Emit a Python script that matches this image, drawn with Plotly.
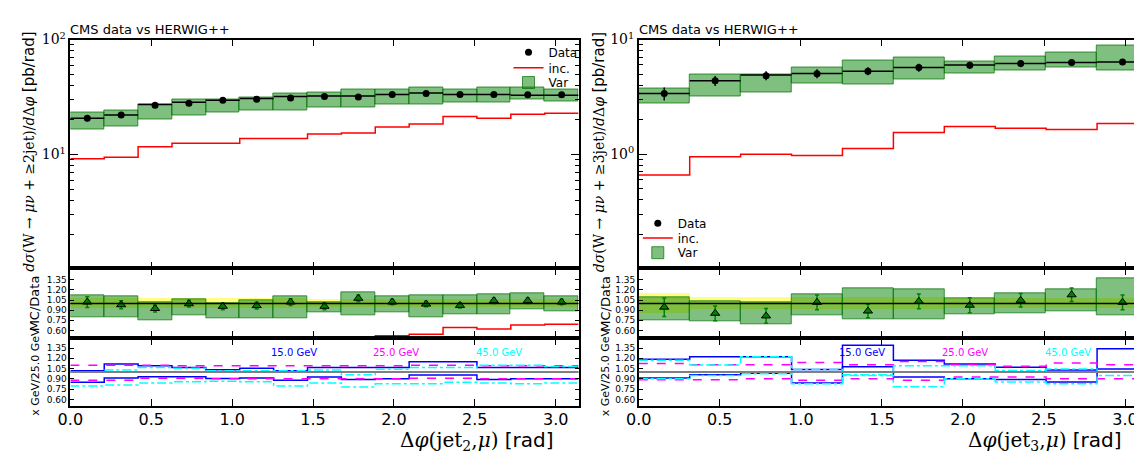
import numpy as np
import plotly.graph_objects as go

W, H = 1142, 452
PI = np.pi

# ---- left: W + >=2 jets, dphi(jet2, mu), 15 bins ----
L_data = [20.7, 22.1, 26.8, 27.9, 29.6, 30.2, 31.0, 32.0, 31.6, 33.3, 34.0, 33.3, 33.3, 33.0, 33.0]
L_data_rel = [0.06, 0.06, 0.05, 0.06, 0.05, 0.05, 0.05, 0.04, 0.05, 0.04, 0.04, 0.04, 0.04, 0.04, 0.04]
L_mc = [20.7, 22.1, 27.2, 28.4, 29.6, 30.7, 32.0, 32.3, 32.3, 33.3, 34.3, 33.3, 33.3, 32.7, 32.7]
L_var_hi = [23.3, 24.3, 27.4, 30.2, 30.2, 31.6, 34.2, 34.4, 36.6, 36.6, 38.6, 36.6, 37.9, 37.9, 36.6]
L_var_lo = [16.5, 17.5, 20.3, 21.8, 23.4, 24.0, 24.3, 25.6, 25.6, 27.4, 27.4, 28.3, 28.3, 30.2, 29.0]
L_inc = [9.18, 9.48, 11.7, 12.5, 12.5, 13.8, 13.8, 15.1, 15.4, 17.3, 18.4, 21.4, 20.7, 22.4, 22.8]
L_ratio = [1.02, 0.98, 0.924, 0.995, 0.957, 0.967, 1.02, 0.957, 1.076, 1.02, 0.99, 0.97, 1.04, 1.04, 1.02]
L_ratio_err = [0.08, 0.06, 0.05, 0.05, 0.05, 0.05, 0.05, 0.05, 0.05, 0.04, 0.04, 0.04, 0.04, 0.04, 0.04]
L_vr_hi = [1.114, 1.10, 1.014, 1.067, 1.005, 1.043, 1.10, 1.014, 1.16, 1.10, 1.124, 1.114, 1.138, 1.148, 1.10]
L_vr_lo = [0.80, 0.80, 0.752, 0.82, 0.776, 0.78, 0.78, 0.86, 0.824, 0.862, 0.80, 0.838, 0.838, 0.91, 0.876]
L_band = [0.08, 0.07, 0.075, 0.07, 0.07, 0.07, 0.07, 0.06, 0.06, 0.06, 0.06, 0.06, 0.06, 0.06, 0.06]
L_15_hi = [1.018, 1.118, 1.09, 1.066, 1.033, 1.056, 1.018, 1.066, 1.066, 1.066, 1.151, 1.151, 1.066, 1.066, 1.066]
L_15_lo = [0.851, 0.913, 0.932, 0.932, 0.904, 0.913, 0.88, 0.927, 0.89, 0.90, 0.956, 0.956, 0.89, 0.90, 0.90]
L_25_hi = [1.10, 1.10, 1.10, 1.09, 1.09, 1.09, 1.09, 1.09, 1.09, 1.09, 1.10, 1.10, 1.09, 1.09, 1.09]
L_25_lo = [0.88, 0.88, 0.91, 0.91, 0.90, 0.90, 0.90, 0.90, 0.90, 0.90, 0.91, 0.91, 0.90, 0.90, 0.90]
L_45_hi = [1.00, 1.03, 1.066, 1.056, 1.02, 1.02, 1.02, 1.03, 0.96, 1.04, 1.066, 1.066, 1.10, 1.10, 1.08]
L_45_lo = [0.794, 0.81, 0.84, 0.857, 0.866, 0.857, 0.794, 0.84, 0.78, 0.83, 0.83, 0.85, 0.84, 0.83, 0.84]

# ---- right: W + >=3 jets, dphi(jet3, mu), 10 bins ----
R_data = [3.38, 4.36, 4.84, 5.04, 5.30, 5.70, 5.97, 6.17, 6.29, 6.37]
R_data_rel = [0.13, 0.10, 0.09, 0.09, 0.08, 0.08, 0.07, 0.07, 0.05, 0.05]
R_mc = [3.38, 4.36, 4.90, 5.06, 5.30, 5.70, 6.00, 6.17, 6.29, 6.37]
R_var_hi = [3.73, 5.0, 5.0, 5.66, 6.58, 6.98, 6.46, 7.13, 7.71, 8.84]
R_var_lo = [2.74, 3.21, 3.47, 4.17, 4.03, 4.45, 5.03, 5.33, 5.66, 5.33]
R_inc = [0.658, 0.948, 1.0, 0.975, 1.12, 1.55, 1.74, 1.68, 1.64, 1.85]
R_ratio = [0.944, 0.853, 0.814, 1.016, 0.887, 1.03, 0.973, 1.045, 1.127, 1.016]
R_ratio_err = [0.137, 0.11, 0.11, 0.11, 0.10, 0.11, 0.11, 0.10, 0.10, 0.11]
R_vr_hi = [1.093, 1.03, 1.02, 1.127, 1.223, 1.213, 1.079, 1.151, 1.213, 1.367]
R_vr_lo = [0.742, 0.728, 0.694, 0.83, 0.757, 0.757, 0.838, 0.853, 0.887, 0.829]
R_band = [0.15, 0.094, 0.094, 0.09, 0.09, 0.09, 0.08, 0.08, 0.08, 0.08]
R_15_hi = [1.188, 1.221, 1.221, 1.035, 1.392, 1.173, 1.116, 1.069, 1.03, 1.34]
R_15_lo = [0.911, 0.959, 0.983, 0.84, 1.078, 0.926, 0.902, 0.892, 0.854, 1.045]
R_25_hi = [1.125, 1.107, 1.107, 1.14, 1.107, 1.154, 1.107, 1.083, 1.13, 1.107]
R_25_lo = [0.888, 0.888, 0.902, 0.878, 0.902, 0.878, 0.926, 0.926, 0.902, 0.902]
R_45_hi = [1.17, 1.102, 1.221, 1.035, 0.959, 1.093, 1.093, 1.021, 1.045, 0.997]
R_45_lo = [0.90, 0.95, 0.973, 0.83, 0.95, 0.783, 0.902, 0.854, 0.83, 0.95]

GEV_LABELS = ["15.0 GeV", "25.0 GeV", "45.0 GeV"]
GEV_COLORS = ["blue", "magenta", "cyan"]
GEV_DASH = ["solid", "dash", "dashdot"]
GEV_LABEL_X = [1.38, 2.01, 2.65]
RATIO_TICKS = [0.60, 0.75, 0.90, 1.05, 1.20, 1.35]

FONT = "DejaVu Sans"
SERIF = "DejaVu Serif"
GREEN = "rgba(0,128,0,0.5)"
YELLOW = "rgba(255,255,0,0.5)"

# the page body adds an 8px margin, so place things relative to that
OFF = 8


def px_x(x):
    return (x - OFF) / W


def px_y(y):
    return 1 - (y - OFF) / H


fig = go.Figure()


def sfx(i):
    return "" if i == 1 else str(i)


def steps(edges, vals):
    return list(edges), list(vals) + [vals[-1]]


def segments(edges, vals):
    xs, ys = [], []
    for i, v in enumerate(vals):
        xs += [edges[i], edges[i + 1], None]
        ys += [v, v, None]
    return xs, ys


def add_panel(k, nbins, d, legends):
    # legends: one single-entry legend each for Data, inc., Var (lets us space them tightly)
    edges = np.linspace(0, PI, nbins + 1)
    centers = (edges[:-1] + edges[1:]) / 2
    bw = edges[1] - edges[0]
    m = dict(xaxis="x" + sfx(k), yaxis="y" + sfx(k))
    r1 = dict(xaxis="x" + sfx(k + 1), yaxis="y" + sfx(k + 1))
    r2 = dict(xaxis="x" + sfx(k + 2), yaxis="y" + sfx(k + 2))

    data = np.array(d["data"])
    var_lo, var_hi = np.array(d["var_lo"]), np.array(d["var_hi"])

    # main panel
    fig.add_trace(go.Bar(x=centers, y=var_hi - var_lo, base=var_lo, width=bw,
                         marker=dict(color=GREEN, line=dict(color="rgba(0,110,0,0.7)", width=1)),
                         name="Var", legend=legends[2], **m))
    xs, ys = segments(edges, d["mc"])
    fig.add_trace(go.Scatter(x=xs, y=ys, mode="lines", line=dict(color="black", width=1.5),
                             showlegend=False, **m))
    sx, sy = steps(edges, d["inc"])
    fig.add_trace(go.Scatter(x=sx, y=sy, mode="lines", line=dict(color="red", width=1.5, shape="hv"),
                             name="inc.", legend=legends[1], **m))
    fig.add_trace(go.Scatter(x=centers, y=data, mode="markers",
                             marker=dict(color="black", size=7),
                             error_y=dict(type="data", array=data * np.array(d["data_rel"]),
                                          color="black", thickness=1.5, width=0),
                             name="Data", legend=legends[0], **m))

    # MC / Data
    band = np.array(d["band"])
    fig.add_trace(go.Bar(x=centers, y=2 * band, base=1 - band, width=bw,
                         marker=dict(color=YELLOW, line=dict(width=0)), showlegend=False, **r1))
    vr_lo, vr_hi = np.array(d["vr_lo"]), np.array(d["vr_hi"])
    fig.add_trace(go.Bar(x=centers, y=vr_hi - vr_lo, base=vr_lo, width=bw,
                         marker=dict(color=GREEN, line=dict(color="rgba(0,110,0,0.7)", width=1)),
                         showlegend=False, **r1))
    sx, sy = steps(edges, list(np.array(d["inc"]) / data))
    fig.add_trace(go.Scatter(x=sx, y=sy, mode="lines", line=dict(color="red", width=1.5, shape="hv"),
                             showlegend=False, **r1))
    fig.add_trace(go.Scatter(x=centers, y=d["ratio"], mode="markers",
                             marker=dict(symbol="triangle-up", size=8, color="green",
                                         line=dict(color="black", width=1)),
                             error_y=dict(type="data", array=d["ratio_err"], color="green",
                                          thickness=1.5, width=2),
                             showlegend=False, **r1))
    fig.add_shape(type="line", xref="x" + sfx(k + 1) + " domain", yref="y" + sfx(k + 1),
                  x0=0, x1=1, y0=1, y1=1, line=dict(color="black", width=1.5))

    # x GeV / 25 GeV
    fig.add_shape(type="line", xref="x" + sfx(k + 2) + " domain", yref="y" + sfx(k + 2),
                  x0=0, x1=1, y0=1, y1=1, line=dict(color="gray", width=2))
    for key, col, dash in zip(["15", "25", "45"], GEV_COLORS, GEV_DASH):
        for side in ["hi", "lo"]:
            sx, sy = steps(edges, d[key + "_" + side])
            fig.add_trace(go.Scatter(x=sx, y=sy, mode="lines",
                                     line=dict(color=col, width=1.5, dash=dash, shape="hv"),
                                     showlegend=False, **r2))
    for lab, col, lx in zip(GEV_LABELS, GEV_COLORS, GEV_LABEL_X):
        fig.add_annotation(x=lx, y=1.29, xref="x" + sfx(k + 2), yref="y" + sfx(k + 2),
                           text=lab, showarrow=False, font=dict(color=col, size=10, family=FONT))


left = dict(data=L_data, data_rel=L_data_rel, mc=L_mc, var_lo=L_var_lo, var_hi=L_var_hi, inc=L_inc,
            ratio=L_ratio, ratio_err=L_ratio_err, vr_lo=L_vr_lo, vr_hi=L_vr_hi, band=L_band,
            **{"15_hi": L_15_hi, "15_lo": L_15_lo, "25_hi": L_25_hi, "25_lo": L_25_lo,
               "45_hi": L_45_hi, "45_lo": L_45_lo})
right = dict(data=R_data, data_rel=R_data_rel, mc=R_mc, var_lo=R_var_lo, var_hi=R_var_hi, inc=R_inc,
             ratio=R_ratio, ratio_err=R_ratio_err, vr_lo=R_vr_lo, vr_hi=R_vr_hi, band=R_band,
             **{"15_hi": R_15_hi, "15_lo": R_15_lo, "25_hi": R_25_hi, "25_lo": R_25_lo,
                "45_hi": R_45_hi, "45_lo": R_45_lo})

add_panel(1, 15, left, ["legend", "legend3", "legend4"])
add_panel(4, 10, right, ["legend2", "legend5", "legend6"])

# ---- axes ----
ydom = {"main": [px_y(264), px_y(30)], "r1": [px_y(335), px_y(264)], "r2": [px_y(405), px_y(335)]}
xdom = [[px_x(58), px_x(573)], [px_x(634), 1.0]]
ylog = [[0.01, 2], [-0.995, 1]]
ytv = [[10, 100], [1, 10]]
ytt = [["10<sup>1</sup>", "10<sup>2</sup>"], ["10<sup>0</sup>", "10<sup>1</sup>"]]

frame = dict(showline=True, linecolor="black", linewidth=1.5, mirror="ticks", ticks="inside",
             tickcolor="black", showgrid=False, zeroline=False)

layout_axes = {}
for p in range(2):
    k = 1 + 3 * p
    for j, part in enumerate(["main", "r1", "r2"]):
        n = sfx(k + j)
        layout_axes["xaxis" + n] = dict(
            domain=xdom[p], range=[0, PI], anchor="y" + n, dtick=0.5, tick0=0, ticklen=7,
            tickformat=".1f", showticklabels=(part == "r2"), ticklabelstandoff=-2,
            tickfont=dict(family=FONT, size=16, color="black"), **frame)
        if part == "main":
            layout_axes["yaxis" + n] = dict(
                domain=ydom[part], type="log", range=ylog[p], anchor="x" + n,
                tickvals=ytv[p], ticktext=ytt[p], ticklen=8,
                tickfont=dict(family=SERIF, size=14, color="black"),
                minor=dict(ticks="inside", ticklen=4, tickcolor="black", dtick="D1", showgrid=False),
                **frame)
        else:
            layout_axes["yaxis" + n] = dict(
                domain=ydom[part], range=[0.49, 1.52] if part == "r1" else [0.5, 1.5],
                anchor="x" + n, tickvals=RATIO_TICKS, tickformat=".2f", ticklen=4,
                tickfont=dict(family=FONT, size=9, color="black"), **frame)

fig.update_layout(**layout_axes)

# ---- text ----
texts = []
for p, (x0, nj) in enumerate([(58, 2), (634, 3)]):
    texts.append(dict(x=px_x(x0 - 2), y=px_y(20), xanchor="left", yanchor="middle",
                      text="CMS data vs HERWIG++", font=dict(family=FONT, size=13, color="black")))
    lx = [16, 594][p]
    texts.append(dict(x=px_x(lx), y=px_y(145), xanchor="center", yanchor="middle", textangle=-90,
                      text=f"<i>dσ</i>(W → <i>μν</i> + ≥{nj}jet)/<i>d</i>Δ<i>φ</i> "
                           f"<span style='font-family:{FONT};font-size:15px'>[pb/rad]</span>",
                      font=dict(family=SERIF, size=14, color="black")))
    rx = [22, 600][p]
    texts.append(dict(x=px_x(rx), y=px_y(300), xanchor="center", yanchor="middle", textangle=-90,
                      text="MC/Data", font=dict(family=FONT, size=13, color="black")))
    texts.append(dict(x=px_x(rx + 1), y=px_y(370), xanchor="center", yanchor="middle", textangle=-90,
                      text="x GeV/25.0 GeV", font=dict(family=FONT, size=11, color="black")))
    tx = [470, 1046][p]
    texts.append(dict(x=px_x(tx), y=px_y(441), xanchor="center", yanchor="middle",
                      text=f"Δ<i>φ</i>(jet<sub>{nj}</sub>,<i>μ</i>) "
                           f"<span style='font-family:{FONT}'>[rad]</span>",
                      font=dict(family=SERIF, size=20, color="black")))
for t in texts:
    fig.add_annotation(xref="paper", yref="paper", showarrow=False, **t)


def one_legend(x, y):
    return dict(x=px_x(x), y=px_y(y), xanchor="left", yanchor="middle", bgcolor="rgba(0,0,0,0)",
                font=dict(family=FONT, size=12, color="black"), itemwidth=30)


fig.update_layout(
    width=W, height=H, margin=dict(l=0, r=0, t=0, b=0),
    paper_bgcolor="white", plot_bgcolor="white",
    barmode="overlay", bargap=0,
    font=dict(family=FONT, color="black"),
    legend=one_legend(502, 43), legend3=one_legend(502, 59), legend4=one_legend(502, 74),
    legend2=one_legend(633, 218), legend5=one_legend(633, 233), legend6=one_legend(633, 248),
)

fig.write_html("out.html")
